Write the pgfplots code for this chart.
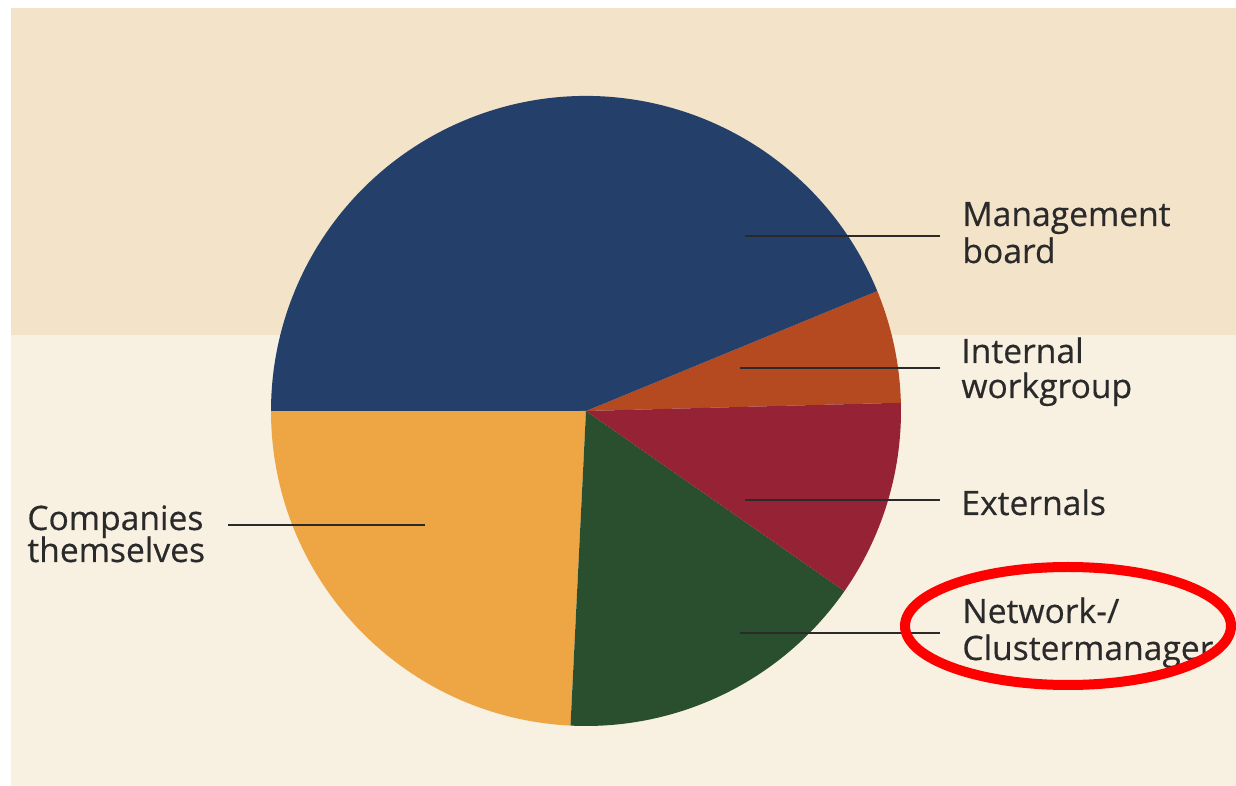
\documentclass[border=0pt]{standalone}
\usepackage{fontspec}
\setmainfont{Open Sans}
\newfontfamily\lblfont{Open Sans}[FakeBold=0.4]
\usepackage{pgfplots}
\usepackage{pgfplotstable}
\pgfplotsset{compat=1.18}

\definecolor{topbg}{HTML}{F3E3C8}
\definecolor{lowbg}{HTML}{F8F0E1}
\definecolor{slice0}{HTML}{B54A20}
\definecolor{slice1}{HTML}{24406A}
\definecolor{slice2}{HTML}{EEA645}
\definecolor{slice3}{HTML}{2A4F2E}
\definecolor{slice4}{HTML}{962235}
\definecolor{ink}{HTML}{2A2A2A}

% shares in percent, counter-clockwise from the first slice
\pgfplotstableread[col sep=comma]{
name,share
Internal workgroup,5.8
Management board,43.8
Companies themselves,24.2
Network-/Clustermanager,16.1
Externals,10.1
}\piedata

\begin{document}
\begin{tikzpicture}
\begin{axis}[
    scale only axis, width=618bp, height=393bp,
    xmin=0, xmax=1236, ymin=0, ymax=786,
    hide axis, clip=false,
]
\path (axis cs:0,0) rectangle (axis cs:1236,786);
\fill[lowbg] (axis cs:11,0) rectangle (axis cs:1236,451);
\fill[topbg] (axis cs:11,451) rectangle (axis cs:1236,778);

\pgfplotsextra{
  \xdef\startangle{1.5}
  \foreach \i in {0,...,4}{
    \pgfplotstablegetelem{\i}{share}\of\piedata
    \pgfmathsetmacro\sweep{3.6*\pgfplotsretval}
    \fill[slice\i] (axis cs:586,375) -- ++(\startangle:157.5bp)
        arc[start angle=\startangle, delta angle=\sweep, radius=157.5bp] -- cycle;
    \pgfmathsetmacro\nextangle{\startangle+\sweep}
    \xdef\startangle{\nextangle}
  }
}

% leader lines
\draw[ink, line width=1.2bp] (axis cs:745,550) -- (axis cs:940,550);
\draw[ink, line width=1.2bp] (axis cs:740,418) -- (axis cs:940,418);
\draw[ink, line width=1.2bp] (axis cs:745,286) -- (axis cs:940,286);
\draw[ink, line width=1.2bp] (axis cs:740,153) -- (axis cs:940,153);
\draw[ink, line width=1.2bp] (axis cs:228,261) -- (axis cs:425,261);

% labels
\begin{scope}[every node/.style={anchor=base west, inner sep=0pt, text=ink, font=\lblfont\fontsize{16.8bp}{18bp}\selectfont}]
\node at (axis cs:962,560) {Management};
\node at (axis cs:962,523) {board};
\node at (axis cs:961,423) {Internal};
\node at (axis cs:961,388) {workgroup};
\node at (axis cs:961,271) {Externals};
\node at (axis cs:962,163) {Network-/};
\node at (axis cs:962,126) {Clustermanager};
\node at (axis cs:27,256) {Companies};
\node at (axis cs:27,224) {themselves};
\end{scope}

% highlight
\begin{scope}
\clip (axis cs:0,0) rectangle (axis cs:1236,786);
\draw[red, line width=5bp] (axis cs:1068,160) ellipse[x radius=81.5bp, y radius=29.5bp];
\end{scope}
\end{axis}
\end{tikzpicture}
\end{document}
